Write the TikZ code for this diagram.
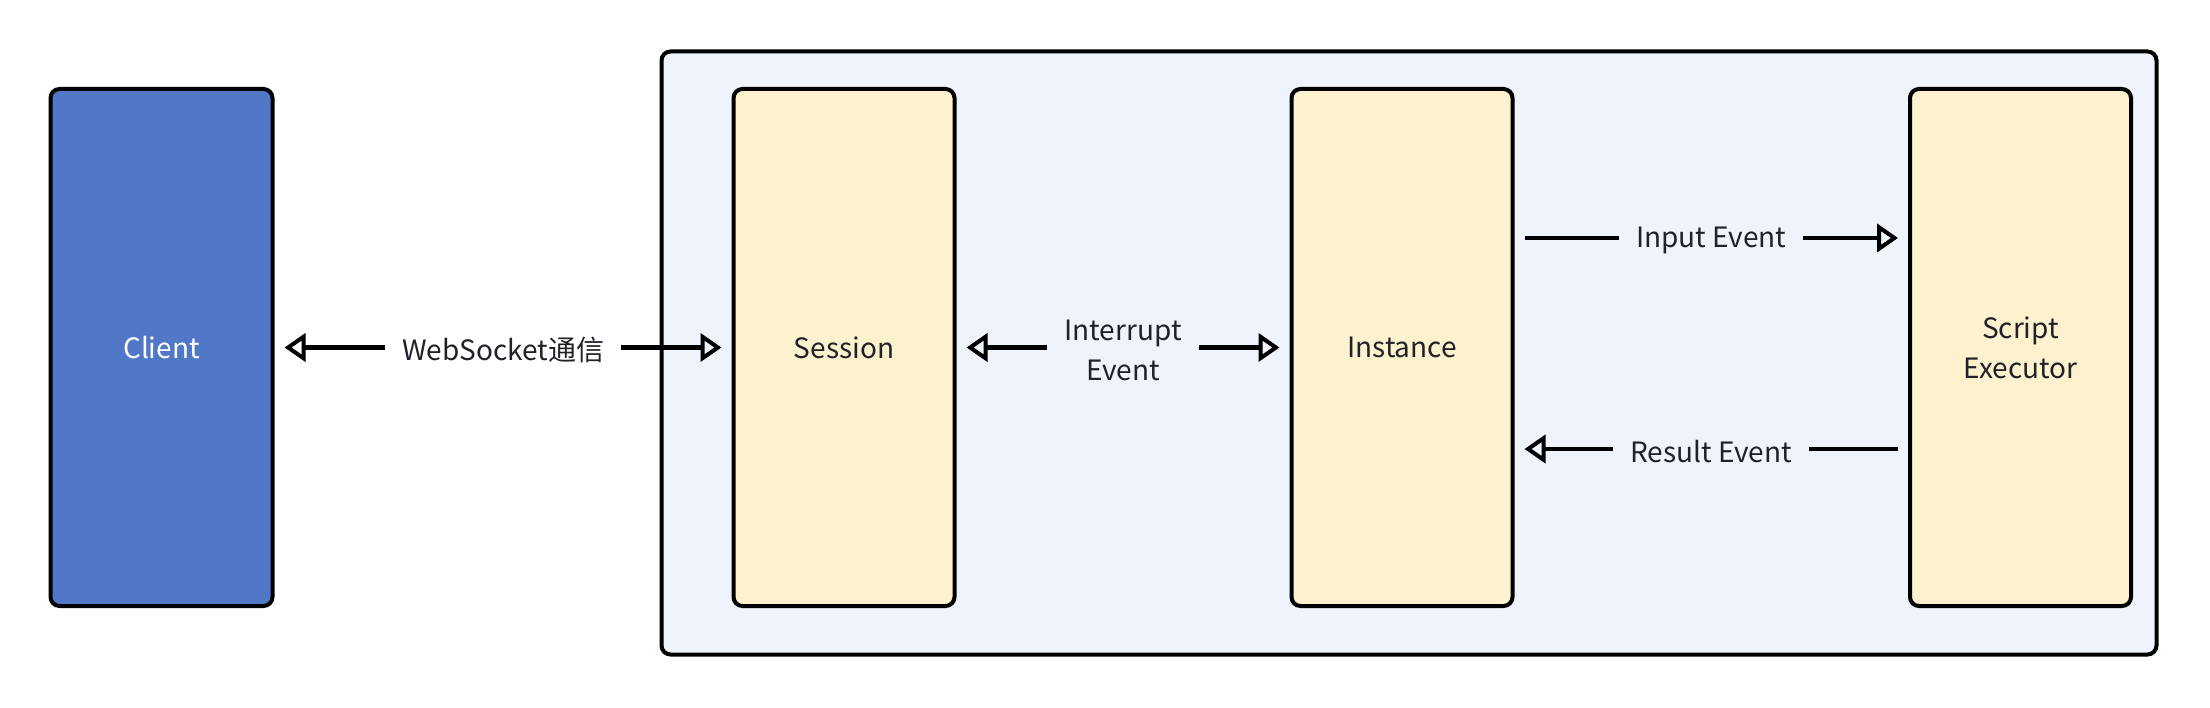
\documentclass[tikz,border=0pt]{standalone}
\usepackage{fontspec}
\newfontfamily\cjk{Noto Sans CJK SC}
\usetikzlibrary{arrows.meta}
\definecolor{clientblue}{RGB}{80,120,198}
\definecolor{contfill}{RGB}{239,243,252}
\definecolor{boxyellow}{RGB}{253,241,206}
\definecolor{txt}{RGB}{31,35,41}
\tikzset{
  base/.style={draw=black, line width=4pt, rounded corners=9pt, inner sep=0pt,
    font=\cjk\fontsize{28}{40}\selectfont, text=txt, align=center},
  clientbox/.style={base, fill=clientblue, text=white, minimum width=222pt, minimum height=517pt},
  comp/.style={base, fill=boxyellow, minimum width=221pt, minimum height=517pt},
  container/.style={draw=black, line width=4pt, rounded corners=9pt, fill=contfill,
    minimum width=1495pt, minimum height=603pt, inner sep=0pt},
  tip/.tip={Triangle[open, length=21pt, width=28pt, line width=4pt]},
  arr/.style={line width=4pt, -tip},
  biarr/.style={line width=4pt, tip-tip},
  rarr/.style={line width=4pt, tip-},
  lbl/.style={inner xsep=17pt, inner ysep=2pt, yshift=-2.5pt, font=\cjk\fontsize{28}{40}\selectfont, text=txt, align=center},
}
\begin{document}
\begin{tikzpicture}[x=1pt, y=-1pt]
\useasboundingbox (0,0) rectangle (2210,708);
\node[container] (cont) at (1409,353) {};
\node[clientbox] (client) at (161.5,347.5) {Client};
\node[comp] (session) at (844,347.5) {Session};
\node[comp] (instance) at (1402,347.5) {Instance};
\node[comp] (script) at (2020.5,347.5) {Script\\Executor};

\draw[biarr] ([xshift=10pt]client.east) -- ([xshift=-10pt]session.west)
  node[midway, lbl, fill=white] {WebSocket通信};
\draw[biarr] ([xshift=10pt]session.east) -- ([xshift=-10pt]instance.west)
  node[midway, lbl, fill=contfill] {Interrupt\\Event};
\draw[arr] ([shift={(10,-109.5)}]instance.east) -- ([shift={(-10,-109.5)}]script.west)
  node[midway, lbl, fill=contfill] {Input Event};
\draw[rarr] ([shift={(10,101.5)}]instance.east) -- ([shift={(-10,101.5)}]script.west)
  node[midway, lbl, fill=contfill] {Result Event};
\end{tikzpicture}
\end{document}
